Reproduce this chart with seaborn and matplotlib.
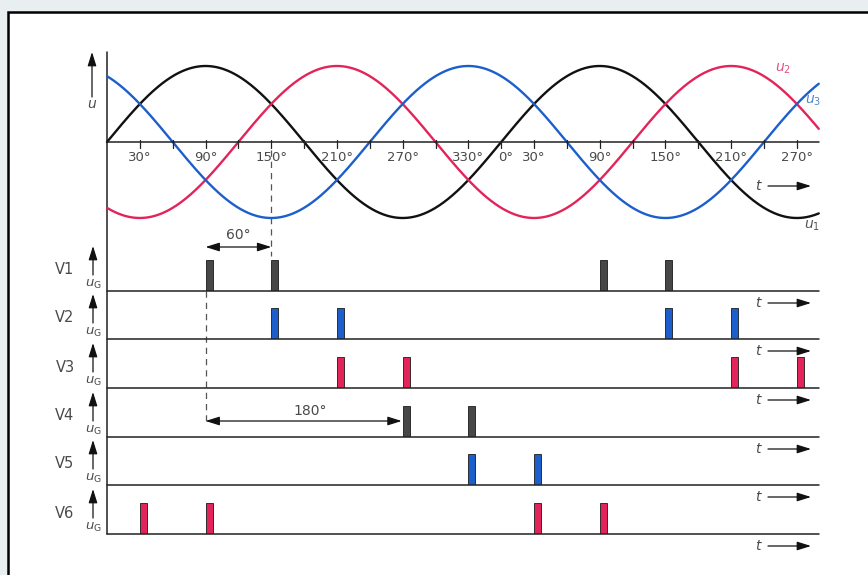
import numpy as np
import pandas as pd
import matplotlib.pyplot as plt
from matplotlib.patches import Rectangle
import seaborn as sns

# ---- data ----
# three line voltages, phase shift in degrees
phases = ["u1", "u2", "u3"]
phase_shift = [0, 120, 240]
phase_colors = ["#111111", "#e3245a", "#1c5fcc"]
t_end = 650  # last angle drawn (degrees)

# firing angles of the six thyristors (degrees)
valves = ["V1", "V2", "V3", "V4", "V5", "V6"]
fire_v1 = [90, 150, 450, 510]
fire_v2 = [150, 210, 510, 570]
fire_v3 = [210, 270, 570, 630]
fire_v4 = [270, 330]
fire_v5 = [330, 390]
fire_v6 = [30, 90, 390, 450]
fire_angles = [fire_v1, fire_v2, fire_v3, fire_v4, fire_v5, fire_v6]
pulse_colors = ["#474747", "#1c5fcc", "#e3245a", "#474747", "#1c5fcc", "#e3245a"]
pulse_width = 6.4  # degrees

tick_angles = [30, 90, 150, 210, 270, 330, 360, 390, 450, 510, 570, 630]
tick_labels = ["30°", "90°", "150°", "210°", "270°", "330°", "0°",
               "30°", "90°", "150°", "210°", "270°"]

# ---- layout (pixels) ----
W, H = 868, 575
X0, K = 107, 1.095           # x pixel of 0°, pixels per degree
ZERO_Y, AMP = 142, 76        # sine axis
BASES = [291, 339, 388, 437, 485, 534]
PANEL_H, PULSE_H = 48, 31
TXT = "#4a4a4a"

def px(a):
    return X0 + K * a

sns.set_theme(style="white")
plt.rcParams["font.family"] = ["DejaVu Sans"]
plt.rcParams["mathtext.fontset"] = "dejavusans"

fig = plt.figure(figsize=(W / 100, H / 100), dpi=100)
fig.patch.set_facecolor("#e9eef0")
xlim = (-X0 / K, (W - X0) / K)

# overlay in pixel coordinates for frame, labels and dimension lines
ov = fig.add_axes([0, 0, 1, 1], zorder=0)
ov.set_xlim(0, W)
ov.set_ylim(H, 0)
ov.axis("off")
ov.add_patch(Rectangle((8, 12), W, H, facecolor="white", edgecolor="black",
                       linewidth=1.8, clip_on=False))

def arrow(ax, x0, y0, x1, y1, style="-|>"):
    ax.annotate("", xy=(x1, y1), xytext=(x0, y0),
                arrowprops=dict(arrowstyle=style + ",head_length=0.7,head_width=0.22",
                                color="#111111", lw=0.9, shrinkA=0, shrinkB=0,
                                mutation_scale=12))

# ---- sine panel ----
theta = np.arange(0, t_end + 0.5, 0.5)
df = pd.concat([pd.DataFrame({"angle": theta, "phase": p,
                              "u": np.sin(np.radians(theta - s))})
                for p, s in zip(phases, phase_shift)])

lim = 1.3
ax_u = fig.add_axes([0, 1 - (ZERO_Y + AMP * lim) / H, 1, 2 * AMP * lim / H], zorder=2)
ax_u.axis("off")
sns.lineplot(data=df, x="angle", y="u", hue="phase", palette=dict(zip(phases, phase_colors)),
             linewidth=1.7, legend=False, ax=ax_u)
ax_u.plot([0, t_end], [0, 0], color="#222222", lw=1.1)
for a in range(30, t_end, 30):
    ax_u.plot([a, a], [-0.08, 0.03], color="#222222", lw=0.9)
for a, lab in zip(tick_angles, tick_labels):
    dx = 4 if lab == "0°" else 0
    ax_u.text(a + dx, -0.21, lab, ha="center", va="center", fontsize=9.5, color=TXT)
ax_u.set_xlim(xlim)
ax_u.set_ylim(-lim, lim)

ov.text(783, 69, r"$u_2$", color="#e0507e", fontsize=10, ha="center", va="center")
ov.text(813, 101, r"$u_3$", color="#4f86c8", fontsize=10, ha="center", va="center")
ov.text(812, 226, r"$u_1$", color="#555555", fontsize=10, ha="center", va="center")
ov.text(92, 104, r"$u$", color=TXT, fontsize=10, ha="center", va="center")
arrow(ov, 92, 97, 92, 52)
ov.text(759, 186, r"$t$", color=TXT, fontsize=10, ha="center", va="center")
arrow(ov, 768, 186, 811, 186)

# vertical axis through all panels
ov.plot([X0, X0], [52, BASES[-1]], color="#222222", lw=1.1)

# ---- gate pulse panels ----
for name, angles, col, base in zip(valves, fire_angles, pulse_colors, BASES):
    ax = fig.add_axes([0, 1 - base / H, 1, PANEL_H / H], zorder=2)
    ax.axis("off")
    ax.bar(angles, 1, width=pulse_width, align="edge", color=col,
           edgecolor="#1a1a1a", linewidth=0.6)
    ax.plot([0, t_end], [0, 0], color="#222222", lw=1.1, clip_on=False)
    ax.set_xlim(xlim)
    ax.set_ylim(0, PANEL_H / PULSE_H)

    ov.text(65, base - 21, name, color=TXT, fontsize=10.5, ha="center", va="center")
    arrow(ov, 93, base - 16, 93, base - 45)
    ov.text(93, base - 7, r"$u_\mathrm{G}$", color=TXT, fontsize=9.5, ha="center", va="center")
    ov.text(759, base + 12, r"$t$", color=TXT, fontsize=10, ha="center", va="center")
    arrow(ov, 768, base + 12, 811, base + 12)

# ---- dimension lines ----
ov.plot([px(150), px(150)], [150, 256], color="#555555", lw=0.9, ls=(0, (5, 4)))
arrow(ov, px(90), 247, px(150), 247, style="<|-|>")
ov.text((px(90) + px(150)) / 2, 235, "60°", color=TXT, fontsize=10, ha="center", va="center")

ov.plot([px(90), px(90)], [BASES[0], 425], color="#555555", lw=0.9, ls=(0, (5, 4)))
arrow(ov, px(90), 421, px(270) - 1, 421, style="<|-|>")
ov.text(310, 411, "180°", color=TXT, fontsize=10, ha="center", va="center")

fig.savefig("out.png", dpi=100, facecolor=fig.get_facecolor())
